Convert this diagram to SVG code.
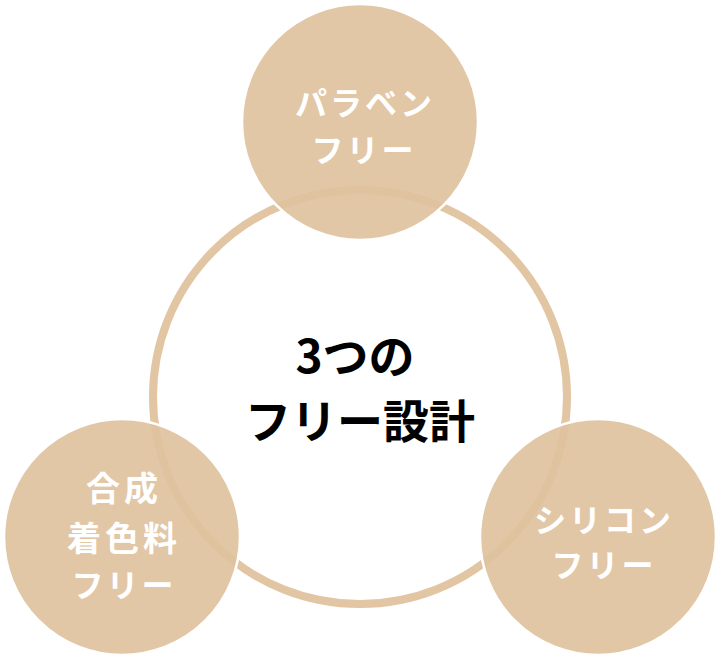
<svg xmlns="http://www.w3.org/2000/svg" width="720" height="656" viewBox="0 0 720 656">
<style>
.ring{fill:none;stroke:#e2c6a3;stroke-width:8}
.bub{fill:#dfc19d;fill-opacity:0.9;stroke:#ffffff;stroke-width:2.5}
.lbl{font-family:"Noto Sans CJK JP","Noto Sans",sans-serif;font-size:32px;font-weight:700;fill:#ffffff;text-anchor:middle;letter-spacing:3px}
.kj{font-size:34px;letter-spacing:4px}
.ctr{font-family:"Noto Sans CJK JP","Noto Sans",sans-serif;font-size:46px;font-weight:700;fill:#000000;text-anchor:middle}
</style>
<rect width="720" height="656" fill="#ffffff"/>
<g id="center">
<circle class="ring" cx="360" cy="397" r="207"/>
<text class="ctr" x="355" y="373">3つの</text>
<text class="ctr" x="360" y="438">フリー設計</text>
</g>
<g id="connectors"></g>
<g id="node-paraben">
<circle class="bub" cx="360" cy="122" r="118"/>
<text class="lbl" x="365" y="115">パラベン</text>
<text class="lbl" x="364" y="162">フリー</text>
</g>
<g id="node-colorant">
<circle class="bub" cx="122" cy="537" r="118"/>
<text class="lbl kj" x="124" y="501">合成</text>
<text class="lbl kj" x="124" y="551">着色料</text>
<text class="lbl" x="124" y="597">フリー</text>
</g>
<g id="node-silicone">
<circle class="bub" cx="598" cy="537" r="118"/>
<text class="lbl" x="604" y="532">シリコン</text>
<text class="lbl" x="604" y="577">フリー</text>
</g>
</svg>
